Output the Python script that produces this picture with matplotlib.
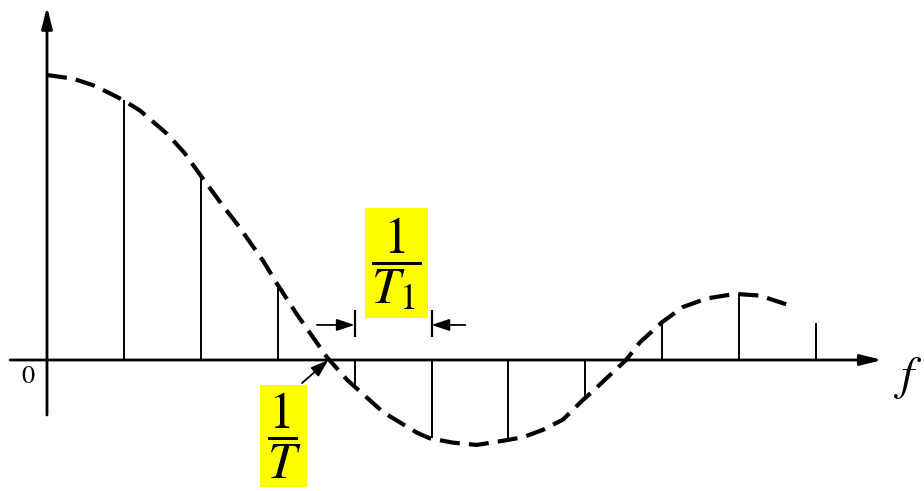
#coding: utf-8
import matplotlib
matplotlib.use('Agg')
import matplotlib.pyplot as plt

'''
sampled spectrum: dashed envelope (continuous spectrum)
and the line spectrum at multiples of 1/T1
'''

plt.rcParams['mathtext.fontset'] = 'stix'

env_f = [0.0, 0.34, 0.6, 0.86, 0.99, 1.21, 1.56, 1.79, 1.98, 2.29, 2.47, 2.81, 2.99,
         3.25, 3.64, 3.90, 4.37, 4.81, 4.98, 5.28, 5.59, 5.96, 6.19, 6.45, 6.71, 6.97, 7.10, 7.28,
         7.53, 7.71, 8.0, 8.27, 8.58, 8.95, 9.27, 9.56, 9.62]
env_a = [1.0, 0.987, 0.964, 0.93, 0.912, 0.875, 0.794, 0.726, 0.654, 0.54, 0.478, 0.348, 0.268,
         0.16, 0.01, -0.069, -0.183, -0.255, -0.275, -0.29, -0.298, -0.282, -0.271, -0.245, -0.209,
         -0.14, -0.109, -0.063, 0.0, 0.062, 0.133, 0.186, 0.216, 0.232, 0.226, 0.20, 0.195]

# spectral lines
line_f = [1, 2, 3, 4, 5, 6, 7, 8, 9, 10]
line_a = [0.912, 0.654, 0.268, -0.086, -0.275, -0.282, -0.138, 0.133, 0.232, 0.13]

zero_f = 3.66        # first zero of the envelope -> 1/T
mark_f = [4, 5]      # spacing 1/T1 shown between these two lines

PX = 76.9   # pixels per unit f
PY = 285.0  # pixels per unit amplitude
W, H = 924, 491
X0, Y0 = 47, 360

fig = plt.figure(figsize=(W / 100, H / 100), dpi=100)
ax = fig.add_axes([0, 0, 1, 1])
ax.set_xlim(-X0 / PX, (W - X0) / PX)
ax.set_ylim((Y0 - H) / PY, Y0 / PY)
ax.axis('off')

# lines
ax.vlines(line_f, 0, line_a, color='black', lw=1.4)

# envelope
ax.plot(env_f, env_a, color='black', lw=3.0, linestyle=(0, (4.8, 2.2)), dash_capstyle='butt')

# axes with arrows
axis_arrow = dict(arrowstyle='-|>,head_length=1.0,head_width=0.25', color='black', lw=2.0,
                  mutation_scale=13, shrinkA=0, shrinkB=0)
ax.annotate('', xy=(10.86, 0), xytext=(-0.48, 0), arrowprops=axis_arrow)
ax.annotate('', xy=(0, 1.24), xytext=(0, -0.193), arrowprops=axis_arrow)

# 1/T1 spacing marker
dim_arrow = dict(arrowstyle='-|>,head_length=0.9,head_width=0.3', color='black', lw=1.3,
                 mutation_scale=12, shrinkA=0, shrinkB=0)
ax.vlines(mark_f, 0.081, 0.175, color='black', lw=1.6)
ax.annotate('', xy=(mark_f[0], 0.123), xytext=(3.51, 0.123), arrowprops=dim_arrow)
ax.annotate('', xy=(mark_f[1], 0.123), xytext=(5.44, 0.123), arrowprops=dim_arrow)

# arrow to the first zero
ax.annotate('', xy=(zero_f, 0.0), xytext=(3.316, -0.081), arrowprops=dim_arrow)

# labels
ybox = dict(boxstyle='square,pad=0.12', facecolor='#ffff00', edgecolor='none')
ax.text(3.08, -0.267, r'$\dfrac{1}{T}$', fontsize=37, ha='center', va='center', bbox=ybox)
ax.text(4.545, 0.340, r'$\dfrac{1}{T_1}$', fontsize=37, ha='center', va='center', bbox=ybox)
ax.text(11.2, -0.063, r'$f$', fontsize=34, ha='center', va='center')
ax.text(-0.247, -0.056, r'$\mathrm{0}$', fontsize=19, ha='center', va='center')

fig.savefig('out.png', dpi=100)
